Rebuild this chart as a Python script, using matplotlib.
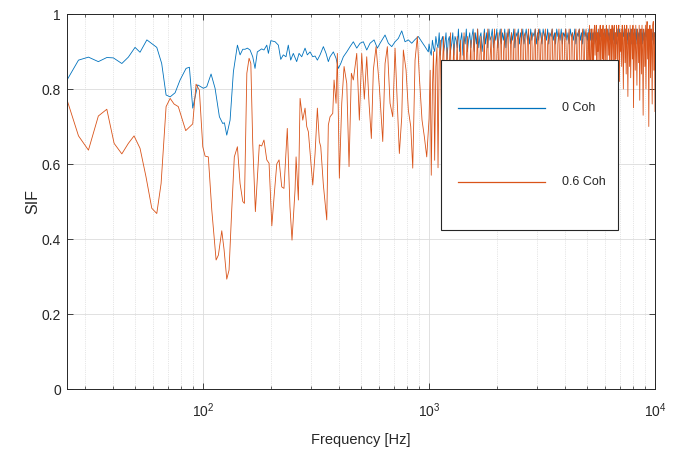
"""SIF versus frequency for two coherence levels."""
import matplotlib
matplotlib.use("Agg")
import matplotlib.pyplot as plt
from matplotlib.patches import Rectangle
from matplotlib.ticker import FuncFormatter, LogLocator, MultipleLocator, NullFormatter
import numpy as np

# below 1 kHz, read vertex by vertex
freq_lo_0coh = [
    25.0, 28.1, 31.1, 34.4, 37.5, 40.1, 43.7, 46.7, 50.0, 52.6, 56.4, 62.4,
    65.6, 68.6, 71.5, 75.2, 79.1, 84.1, 87.0, 90.0, 94.7, 100.3, 103.8, 108.5,
    113.0, 118.1, 122.2, 124.3, 127.3, 131.7, 136.2, 141.9, 145.8, 149.9,
    153.4, 157.1, 161.4, 165.9, 169.8, 173.8, 181.7, 186.0, 191.4, 194.6,
    199.5, 208.4, 215.4, 220.7, 226.5, 232.8, 238.3, 244.2, 250.8, 259.6,
    265.9, 273.3, 282.7, 289.3, 297.5, 305.8, 313.1, 320.5, 329.4, 340.7,
    350.1, 358.4, 364.7, 377.2, 387.7, 396.9, 406.8, 417.7, 432.4, 447.2,
    462.4, 478.7, 495.1, 512.0, 530.0, 548.2, 571.1, 590.6, 607.1, 638.8,
    660.7, 683.9, 707.3, 731.5, 757.3, 783.1, 809.9, 838.5, 867.2, 896.9,
    928.4, 960.0, 992.9,
]
sif_lo_0coh = [
    0.824, 0.877, 0.885, 0.873, 0.884, 0.883, 0.868, 0.885, 0.911, 0.898,
    0.931, 0.911, 0.868, 0.784, 0.779, 0.790, 0.824, 0.855, 0.858, 0.749,
    0.811, 0.802, 0.806, 0.840, 0.802, 0.726, 0.708, 0.710, 0.677, 0.717,
    0.846, 0.917, 0.891, 0.906, 0.906, 0.909, 0.904, 0.886, 0.855, 0.899,
    0.907, 0.904, 0.917, 0.895, 0.929, 0.926, 0.917, 0.879, 0.891, 0.886,
    0.917, 0.877, 0.895, 0.873, 0.895, 0.886, 0.909, 0.891, 0.899, 0.886,
    0.888, 0.877, 0.891, 0.913, 0.895, 0.873, 0.886, 0.899, 0.882, 0.855,
    0.868, 0.886, 0.899, 0.913, 0.926, 0.909, 0.922, 0.926, 0.904, 0.922,
    0.931, 0.909, 0.922, 0.944, 0.922, 0.913, 0.926, 0.935, 0.955, 0.926,
    0.931, 0.922, 0.932, 0.940, 0.926, 0.913, 0.899,
]

freq_lo_06coh = [
    25.0, 28.1, 31.1, 34.4, 37.5, 40.4, 43.7, 46.7, 49.5, 52.6, 55.9, 59.3,
    62.4, 65.2, 68.6, 71.5, 74.4, 77.7, 83.8, 90.0, 93.1, 96.3, 99.7, 102.1,
    105.5, 109.3, 114.2, 116.9, 121.0, 123.9, 127.3, 130.3, 133.9, 137.5,
    141.9, 145.8, 149.9, 152.4, 156.2, 159.8, 162.7, 165.9, 170.4, 177.4,
    181.7, 186.0, 191.4, 195.9, 201.5, 206.2, 211.9, 216.9, 222.9, 228.1,
    235.9, 242.4, 247.5, 255.3, 258.0, 264.1, 268.7, 276.2, 282.7, 287.6,
    292.4, 305.8, 313.1, 320.5, 327.1, 331.8, 340.7, 352.7, 358.4, 364.7,
    374.9, 379.9, 387.7, 392.9, 401.0, 410.9, 420.7, 432.4, 442.6, 453.2,
    462.4, 478.7, 491.6, 503.7, 517.2, 530.0, 542.6, 555.6, 567.0, 582.9,
    602.8, 624.0, 638.8, 654.0, 672.2, 690.9, 707.3, 724.0, 739.0, 757.3,
    769.7, 791.1, 809.9, 829.9, 847.1, 867.2, 887.7, 906.0, 931.1, 953.3,
    976.8,
]
sif_lo_06coh = [
    0.771, 0.675, 0.637, 0.728, 0.746, 0.655, 0.627, 0.655, 0.675, 0.642,
    0.566, 0.482, 0.468, 0.548, 0.753, 0.775, 0.760, 0.753, 0.689, 0.707,
    0.813, 0.797, 0.646, 0.621, 0.619, 0.477, 0.344, 0.357, 0.422, 0.371,
    0.293, 0.317, 0.477, 0.619, 0.646, 0.548, 0.500, 0.495, 0.842, 0.882,
    0.868, 0.655, 0.473, 0.651, 0.648, 0.664, 0.611, 0.602, 0.435, 0.513,
    0.600, 0.611, 0.539, 0.535, 0.695, 0.486, 0.397, 0.531, 0.619, 0.504,
    0.775, 0.717, 0.749, 0.700, 0.686, 0.544, 0.628, 0.749, 0.660, 0.646,
    0.544, 0.451, 0.704, 0.726, 0.735, 0.824, 0.762, 0.895, 0.562, 0.762,
    0.860, 0.815, 0.593, 0.842, 0.824, 0.895, 0.717, 0.895, 0.773, 0.886,
    0.762, 0.668, 0.851, 0.913, 0.806, 0.660, 0.868, 0.913, 0.762, 0.726,
    0.909, 0.762, 0.628, 0.726, 0.904, 0.851, 0.744, 0.700, 0.589, 0.877,
    0.940, 0.833, 0.717, 0.673, 0.619,
]

# 1-10 kHz, read as envelope swings of the dense traces
freq_hf = [
    1000, 1012, 1023, 1035, 1047, 1059, 1072, 1084, 1096, 1109,
    1122, 1135, 1148, 1161, 1175, 1189, 1202, 1216, 1230, 1244,
    1259, 1274, 1288, 1303, 1318, 1333, 1349, 1365, 1380, 1396,
    1413, 1429, 1445, 1462, 1479, 1496, 1514, 1532, 1549, 1567,
    1585, 1603, 1622, 1641, 1660, 1679, 1698, 1718, 1738, 1758,
    1778, 1799, 1820, 1841, 1862, 1884, 1905, 1927, 1950, 1973,
    1995, 2018, 2042, 2066, 2089, 2113, 2138, 2163, 2188, 2213,
    2239, 2265, 2291, 2318, 2344, 2371, 2399, 2427, 2455, 2483,
    2512, 2541, 2570, 2600, 2630, 2660, 2692, 2723, 2754, 2786,
    2818, 2851, 2884, 2917, 2951, 2985, 3020, 3055, 3090, 3126,
    3162, 3199, 3236, 3273, 3311, 3349, 3388, 3427, 3467, 3507,
    3548, 3589, 3631, 3673, 3715, 3758, 3802, 3846, 3890, 3935,
    3981, 4027, 4074, 4121, 4169, 4217, 4266, 4315, 4365, 4416,
    4467, 4519, 4571, 4624, 4677, 4731, 4786, 4841, 4898, 4955,
    5012, 5041, 5070, 5099, 5129, 5159, 5188, 5218, 5248, 5278,
    5309, 5340, 5370, 5401, 5432, 5463, 5495, 5527, 5559, 5591,
    5623, 5655, 5688, 5721, 5754, 5787, 5821, 5855, 5888, 5922,
    5956, 5990, 6026, 6061, 6096, 6131, 6166, 6202, 6237, 6273,
    6310, 6346, 6383, 6420, 6457, 6494, 6532, 6570, 6607, 6645,
    6683, 6722, 6761, 6800, 6839, 6878, 6918, 6958, 6998, 7038,
    7079, 7120, 7161, 7202, 7244, 7286, 7328, 7370, 7413, 7456,
    7499, 7542, 7586, 7630, 7674, 7718, 7762, 7807, 7852, 7897,
    7943, 7989, 8035, 8081, 8128, 8175, 8222, 8269, 8318, 8366,
    8414, 8463, 8511, 8560, 8610, 8660, 8710, 8760, 8811, 8862,
    8913, 8964, 9016, 9068, 9120, 9173, 9226, 9279, 9333, 9387,
    9441, 9495, 9550, 9605, 9661, 9717, 9772, 9828, 9885, 9942,
    10000,
]
sif_hf_0coh = [
    0.92, 0.90, 0.89, 0.93, 0.91, 0.90, 0.94, 0.92, 0.91, 0.95,
    0.89, 0.93, 0.94, 0.90, 0.92, 0.95, 0.88, 0.93, 0.94, 0.90,
    0.92, 0.95, 0.89, 0.94, 0.93, 0.91, 0.96, 0.90, 0.93, 0.95,
    0.89, 0.94, 0.92, 0.96, 0.90, 0.93, 0.95, 0.91, 0.94, 0.96,
    0.90, 0.95, 0.92, 0.96, 0.91, 0.94, 0.95, 0.90, 0.93, 0.96,
    0.92, 0.95, 0.91, 0.96, 0.93, 0.94, 0.96, 0.91, 0.95, 0.93,
    0.96, 0.91, 0.94, 0.96, 0.92, 0.95, 0.93, 0.96, 0.91, 0.95,
    0.94, 0.96, 0.92, 0.95, 0.93, 0.96, 0.91, 0.95, 0.94, 0.96,
    0.92, 0.95, 0.93, 0.96, 0.92, 0.94, 0.96, 0.93, 0.95, 0.92,
    0.96, 0.93, 0.95, 0.94, 0.96, 0.92, 0.95, 0.93, 0.96, 0.94,
    0.92, 0.96, 0.94, 0.95, 0.93, 0.96, 0.92, 0.95, 0.94, 0.96,
    0.93, 0.95, 0.92, 0.96, 0.94, 0.95, 0.93, 0.96, 0.92, 0.95,
    0.94, 0.96, 0.93, 0.95, 0.92, 0.96, 0.94, 0.95, 0.93, 0.96,
    0.92, 0.95, 0.94, 0.96, 0.93, 0.95, 0.92, 0.96, 0.94, 0.95,
    0.93, 0.95, 0.92, 0.96, 0.94, 0.95, 0.93, 0.96, 0.92, 0.95,
    0.93, 0.95, 0.92, 0.96, 0.94, 0.95, 0.93, 0.96, 0.92, 0.95,
    0.93, 0.95, 0.92, 0.96, 0.94, 0.95, 0.93, 0.96, 0.92, 0.95,
    0.93, 0.95, 0.92, 0.96, 0.94, 0.95, 0.93, 0.96, 0.92, 0.95,
    0.93, 0.95, 0.92, 0.96, 0.94, 0.95, 0.93, 0.96, 0.92, 0.95,
    0.93, 0.95, 0.92, 0.96, 0.94, 0.95, 0.93, 0.96, 0.92, 0.95,
    0.93, 0.95, 0.92, 0.96, 0.94, 0.95, 0.93, 0.96, 0.92, 0.95,
    0.93, 0.95, 0.92, 0.96, 0.94, 0.95, 0.93, 0.96, 0.92, 0.95,
    0.93, 0.95, 0.92, 0.96, 0.94, 0.95, 0.93, 0.96, 0.92, 0.95,
    0.93, 0.95, 0.92, 0.96, 0.94, 0.95, 0.93, 0.96, 0.92, 0.95,
    0.93, 0.95, 0.92, 0.96, 0.94, 0.95, 0.93, 0.96, 0.92, 0.95,
    0.93, 0.95, 0.92, 0.96, 0.94, 0.95, 0.93, 0.96, 0.92, 0.95,
    0.94,
]
sif_hf_06coh = [
    0.72, 0.85, 0.57, 0.80, 0.90, 0.61, 0.86, 0.91, 0.59, 0.88,
    0.93, 0.70, 0.87, 0.94, 0.66, 0.84, 0.91, 0.74, 0.86, 0.95,
    0.63, 0.85, 0.92, 0.77, 0.83, 0.94, 0.68, 0.87, 0.93, 0.72,
    0.86, 0.95, 0.65, 0.88, 0.94, 0.76, 0.85, 0.93, 0.69, 0.90,
    0.95, 0.71, 0.87, 0.96, 0.64, 0.89, 0.94, 0.75, 0.86, 0.95,
    0.67, 0.90, 0.96, 0.73, 0.88, 0.94, 0.70, 0.91, 0.96, 0.66,
    0.89, 0.95, 0.78, 0.92, 0.96, 0.69, 0.90, 0.95, 0.74, 0.93,
    0.96, 0.71, 0.91, 0.95, 0.77, 0.92, 0.96, 0.68, 0.93, 0.95,
    0.75, 0.91, 0.96, 0.72, 0.94, 0.95, 0.79, 0.92, 0.96, 0.70,
    0.93, 0.95, 0.76, 0.91, 0.96, 0.73, 0.94, 0.96, 0.80, 0.92,
    0.95, 0.68, 0.93, 0.96, 0.75, 0.92, 0.95, 0.72, 0.94, 0.96,
    0.79, 0.93, 0.95, 0.70, 0.92, 0.96, 0.77, 0.94, 0.95, 0.73,
    0.93, 0.96, 0.80, 0.92, 0.96, 0.74, 0.94, 0.95, 0.78, 0.93,
    0.96, 0.80, 0.95, 0.96, 0.73, 0.93, 0.96, 0.81, 0.94, 0.96,
    0.75, 0.93, 0.95, 0.84, 0.97, 0.88, 0.79, 0.96, 0.93, 0.86,
    0.96, 0.82, 0.95, 0.97, 0.89, 0.94, 0.97, 0.76, 0.95, 0.90,
    0.96, 0.85, 0.94, 0.97, 0.81, 0.95, 0.96, 0.88, 0.97, 0.78,
    0.94, 0.96, 0.87, 0.95, 0.97, 0.83, 0.96, 0.94, 0.89, 0.97,
    0.80, 0.95, 0.96, 0.86, 0.97, 0.93, 0.84, 0.96, 0.97, 0.79,
    0.95, 0.88, 0.97, 0.94, 0.85, 0.96, 0.97, 0.82, 0.95, 0.90,
    0.96, 0.86, 0.97, 0.93, 0.80, 0.95, 0.97, 0.87, 0.96, 0.84,
    0.97, 0.92, 0.78, 0.96, 0.94, 0.86, 0.97, 0.83, 0.95, 0.96,
    0.88, 0.97, 0.75, 0.94, 0.96, 0.85, 0.97, 0.91, 0.81, 0.96,
    0.94, 0.87, 0.97, 0.77, 0.95, 0.96, 0.84, 0.97, 0.90, 0.73,
    0.96, 0.94, 0.86, 0.97, 0.80, 0.95, 0.98, 0.88, 0.96, 0.70,
    0.94, 0.97, 0.83, 0.96, 0.92, 0.76, 0.97, 0.98, 0.85, 0.95,
    0.74,
]

series = [
    ("0 Coh", freq_lo_0coh + freq_hf, sif_lo_0coh + sif_hf_0coh, "#0072BD"),
    ("0.6 Coh", freq_lo_06coh + freq_hf, sif_lo_06coh + sif_hf_06coh, "#D95319"),
]

plt.rcParams["font.family"] = ["Liberation Sans", "DejaVu Sans"]
plt.rcParams["mathtext.fontset"] = "custom"
plt.rcParams["mathtext.rm"] = "Liberation Sans"

dark = "#262626"
fig = plt.figure(figsize=(6.77, 4.49), dpi=100)
ax = fig.add_axes([0.099, 0.1336, 0.8685, 0.8352])

for label, f, s, color in series:
    ax.plot(f, s, color=color, lw=0.6, label=label)

ax.set_xscale("log")
ax.yaxis.set_major_locator(MultipleLocator(0.2))
ax.yaxis.set_major_formatter(FuncFormatter(lambda v, _: f"{v:g}"))
ax.xaxis.set_minor_locator(LogLocator(base=10, subs=np.arange(2, 10)))
ax.xaxis.set_minor_formatter(NullFormatter())
ax.tick_params(which="both", direction="in", top=True, right=True,
               colors=dark, labelsize=10)
ax.tick_params(which="major", length=4, width=0.6)
ax.tick_params(which="minor", length=2.5, width=0.5)
ax.tick_params(axis="x", which="major", pad=9)
ax.tick_params(axis="y", which="major", pad=4.5)
ax.grid(True, which="major", color="#dcdcdc", lw=0.6)
ax.grid(True, which="minor", axis="x", color="#cfcfcf", lw=0.5, ls=":")
for spine in ax.spines.values():
    spine.set_color(dark)
    spine.set_linewidth(0.7)
ax.set_xlabel("Frequency [Hz]", fontsize=10.5, color=dark, labelpad=9)
ax.set_ylabel("SIF", fontsize=11.5, color=dark, labelpad=1)

# legend box drawn by hand: MATLAB-style large frame with centred entries
ax.add_patch(Rectangle((0.636, 0.424), 0.301, 0.453, transform=ax.transAxes,
                       facecolor="white", edgecolor=dark, lw=0.8, zorder=5))
for line, y in zip(ax.get_lines(), [0.749, 0.552]):
    ax.plot([0.665, 0.813], [y, y], transform=ax.transAxes,
            color=line.get_color(), lw=0.9, zorder=6)
    ax.text(0.842, y, line.get_label(), transform=ax.transAxes, va="center",
            fontsize=9, color=dark, zorder=6)

ax.set_xlim(25, 1e4)
ax.set_ylim(0, 1)
fig.savefig("out.png", dpi=100)
